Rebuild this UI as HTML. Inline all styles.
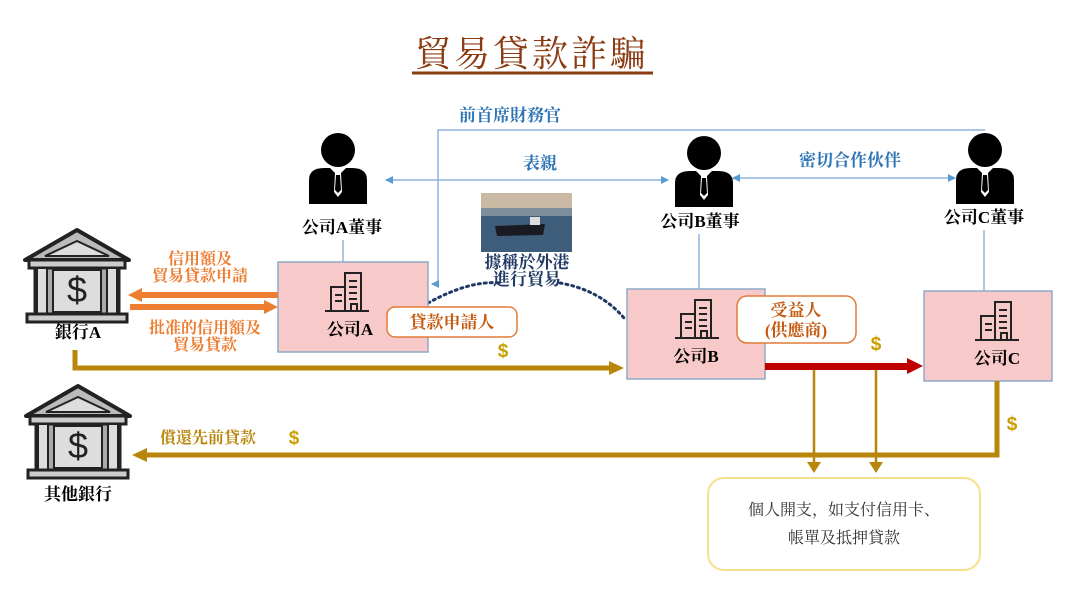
<!DOCTYPE html>
<html><head><meta charset="utf-8"><style>
html,body{margin:0;padding:0;background:#fff;}
svg{display:block;font-family:"Liberation Serif","Noto Serif CJK SC","Noto Sans CJK TC",serif;}
</style></head><body>
<svg width="1080" height="603" viewBox="0 0 1080 603" xmlns="http://www.w3.org/2000/svg">
<defs>
<g id="person">
<circle cx="0" cy="-22" r="17" fill="#000"/>
<path d="M-29 32 L-29 8 Q-29 -4 -14 -4 L14 -4 Q29 -4 29 8 L29 32 Z" fill="#000"/>
<path d="M-8 -4 L0 4 L8 -4 Z" fill="#fff"/>
<path d="M-3 1 L3 1 L4 20 L0 25 L-4 20 Z" fill="#fff"/>
<path d="M-2 3 L2 3 L3 18 L0 21 L-3 18 Z" fill="#000"/>
</g>
<g id="bldg" fill="none" stroke="#222" stroke-width="2">
<line x1="-22" y1="18" x2="22" y2="18"/>
<rect x="-2" y="-20" width="16" height="38"/>
<rect x="-16" y="-6" width="14" height="24"/>
<line x1="2" y1="-12" x2="10" y2="-12"/><line x1="2" y1="-6" x2="10" y2="-6"/><line x1="2" y1="0" x2="10" y2="0"/><line x1="2" y1="6" x2="10" y2="6"/>
<line x1="-12" y1="2" x2="-5" y2="2"/><line x1="-12" y1="8" x2="-5" y2="8"/>
<rect x="4" y="11" width="6" height="7"/>
</g>
<g id="bank">
<path d="M0 -44 L-52 -14 L52 -14 Z" fill="#bbb" stroke="#222" stroke-width="4" stroke-linejoin="round"/>
<path d="M0 -33 L-32 -18 L32 -18 Z" fill="#ddd" stroke="#222" stroke-width="2"/>
<rect x="-48" y="-14" width="96" height="8" fill="#ccc" stroke="#222" stroke-width="3"/>
<rect x="-42" y="-6" width="84" height="46" fill="#aaa" stroke="#222" stroke-width="3"/>
<rect x="-40" y="-6" width="10" height="46" fill="#ddd" stroke="#222" stroke-width="2"/>
<rect x="30" y="-6" width="10" height="46" fill="#ddd" stroke="#222" stroke-width="2"/>
<rect x="-24" y="-4" width="48" height="42" fill="#ddd" stroke="#222" stroke-width="2"/>
<text x="0" y="28" font-size="36" text-anchor="middle" fill="#222" font-family="Liberation Sans,sans-serif">$</text>
<rect x="-50" y="40" width="100" height="8" fill="#ccc" stroke="#222" stroke-width="3"/>
</g>
<marker id="ba" markerWidth="8" markerHeight="8" refX="7" refY="4" orient="auto-start-reverse" markerUnits="userSpaceOnUse"><path d="M0 0 L8 4 L0 8 Z" fill="#5b9bd5"/></marker>
</defs>

<!-- title -->
<text x="532" y="66" font-size="36" text-anchor="middle" fill="#8a3b12" letter-spacing="3">貿易貸款詐騙</text>
<line x1="412" y1="73" x2="653" y2="73" stroke="#8a3b12" stroke-width="3"/>

<!-- blue lines -->
<text x="510" y="121" font-size="17" text-anchor="middle" fill="#2e75b6" font-weight="bold">前首席財務官</text>
<polyline points="985,130 438,130 438,284 432,284" fill="none" stroke="#8fb4dc" stroke-width="1.5" marker-end="url(#ba)"/>
<line x1="386" y1="180" x2="668" y2="180" stroke="#8fb4dc" stroke-width="1.5" marker-start="url(#ba)" marker-end="url(#ba)"/>
<text x="540" y="169" font-size="17" text-anchor="middle" fill="#2e75b6" font-weight="bold">表親</text>
<line x1="733" y1="178" x2="955" y2="178" stroke="#8fb4dc" stroke-width="1.5" marker-start="url(#ba)" marker-end="url(#ba)"/>
<text x="850" y="166" font-size="17" text-anchor="middle" fill="#2e75b6" font-weight="bold">密切合作伙伴</text>

<!-- persons -->
<use href="#person" x="338" y="172"/>
<use href="#person" x="704" y="175"/>
<use href="#person" x="985" y="172"/>
<text x="342" y="233" font-size="17" text-anchor="middle" font-weight="bold">公司A董事</text>
<text x="700" y="227" font-size="17" text-anchor="middle" font-weight="bold">公司B董事</text>
<text x="984" y="223" font-size="17" text-anchor="middle" font-weight="bold">公司C董事</text>
<line x1="343" y1="240" x2="343" y2="262" stroke="#8fb4dc" stroke-width="1.5"/>
<line x1="699" y1="234" x2="699" y2="289" stroke="#8fb4dc" stroke-width="1.5"/>
<line x1="984" y1="230" x2="984" y2="291" stroke="#8fb4dc" stroke-width="1.5"/>

<!-- ship -->
<rect x="481" y="193" width="91" height="59" fill="#3d5d7a"/>
<rect x="481" y="193" width="91" height="17" fill="#c8b8a4"/>
<rect x="481" y="208" width="91" height="8" fill="#7d8f9c"/>
<path d="M495 226 L545 224 L543 235 L497 236 Z" fill="#1a1a22"/>
<rect x="530" y="217" width="10" height="8" fill="#ddd"/>
<text x="527" y="268" font-size="17" text-anchor="middle" font-weight="bold" fill="#1f3864">據稱於外港</text>
<text x="527" y="285" font-size="17" text-anchor="middle" font-weight="bold" fill="#1f3864">進行貿易</text>
<path d="M428 303 Q470 280 500 283 M560 283 Q600 290 624 318" fill="none" stroke="#1f3864" stroke-width="3" stroke-dasharray="2 4" stroke-linecap="round"/>

<!-- boxes -->
<rect x="278" y="262" width="150" height="90" fill="#f8c9c9" stroke="#8ea9c8" stroke-width="1.5"/>
<rect x="627" y="289" width="138" height="90" fill="#f8c9c9" stroke="#8ea9c8" stroke-width="1.5"/>
<rect x="924" y="291" width="128" height="90" fill="#f8c9c9" stroke="#8ea9c8" stroke-width="1.5"/>
<use href="#bldg" x="347" y="293"/>
<use href="#bldg" x="697" y="320"/>
<use href="#bldg" x="997" y="322"/>
<text x="350" y="335" font-size="17" text-anchor="middle" font-weight="bold">公司A</text>
<text x="696" y="362" font-size="17" text-anchor="middle" font-weight="bold">公司B</text>
<text x="997" y="364" font-size="17" text-anchor="middle" font-weight="bold">公司C</text>

<rect x="387" y="307" width="130" height="30" rx="8" fill="#fff" stroke="#e07b39" stroke-width="1.5"/>
<text x="452" y="328" font-size="17" text-anchor="middle" fill="#c55a11" font-weight="bold">貸款申請人</text>
<rect x="737" y="296" width="119" height="47" rx="10" fill="#fff" stroke="#e07b39" stroke-width="1.5"/>
<text x="796" y="316" font-size="17" text-anchor="middle" fill="#c55a11" font-weight="bold">受益人</text>
<text x="796" y="336" font-size="17" text-anchor="middle" fill="#c55a11" font-weight="bold">(供應商)</text>

<!-- banks -->
<use href="#bank" x="77" y="274"/>
<text x="78" y="338" font-size="17" text-anchor="middle" font-weight="bold">銀行A</text>
<use href="#bank" x="78" y="430"/>
<text x="78" y="500" font-size="17" text-anchor="middle" font-weight="bold">其他銀行</text>

<!-- orange arrows -->
<rect x="140" y="292" width="138" height="6" fill="#ed7d31"/>
<path d="M128 295 L142 288 L142 302 Z" fill="#ed7d31"/>
<rect x="130" y="304" width="136" height="6" fill="#ed7d31"/>
<path d="M278 307 L264 300 L264 314 Z" fill="#ed7d31"/>
<g font-size="16" fill="#ed7d31" font-weight="bold" text-anchor="middle">
<text x="200" y="264">信用額及</text>
<text x="200" y="281">貿易貸款申請</text>
<text x="205" y="333">批准的信用額及</text>
<text x="205" y="350">貿易貸款</text>
</g>

<!-- gold lines -->
<polyline points="75,350 75,368 612,368" fill="none" stroke="#b8860b" stroke-width="5"/>
<path d="M624 368 L609 361 L609 375 Z" fill="#b8860b"/>
<text x="503" y="357" font-size="19" fill="#c9a000" font-weight="bold" text-anchor="middle" font-family="Liberation Sans,sans-serif">$</text>

<rect x="765" y="363" width="145" height="7" fill="#c00000"/>
<path d="M923 366 L907 358 L907 374 Z" fill="#c00000"/>
<text x="876" y="350" font-size="19" fill="#c9a000" font-weight="bold" text-anchor="middle" font-family="Liberation Sans,sans-serif">$</text>

<polyline points="997,381 997,455 145,455" fill="none" stroke="#b8860b" stroke-width="5"/>
<path d="M132 455 L147 448 L147 462 Z" fill="#b8860b"/>
<text x="1012" y="430" font-size="19" fill="#c9a000" font-weight="bold" text-anchor="middle" font-family="Liberation Sans,sans-serif">$</text>
<text x="160" y="443" font-size="16" fill="#b8860b" font-weight="bold">償還先前貸款</text>
<text x="294" y="444" font-size="19" fill="#c9a000" font-weight="bold" text-anchor="middle" font-family="Liberation Sans,sans-serif">$</text>

<line x1="814" y1="370" x2="814" y2="463" stroke="#b8860b" stroke-width="2.5"/>
<path d="M814 473 L807 462 L821 462 Z" fill="#b8860b"/>
<line x1="876" y1="370" x2="876" y2="463" stroke="#b8860b" stroke-width="2.5"/>
<path d="M876 473 L869 462 L883 462 Z" fill="#b8860b"/>

<rect x="708" y="478" width="272" height="92" rx="16" fill="#fff" stroke="#f5e08a" stroke-width="2"/>
<text x="844" y="515" font-size="16" text-anchor="middle" fill="#333">個人開支，如支付信用卡、</text>
<text x="844" y="543" font-size="16" text-anchor="middle" fill="#333">帳單及抵押貸款</text>
</svg>
</body></html>
